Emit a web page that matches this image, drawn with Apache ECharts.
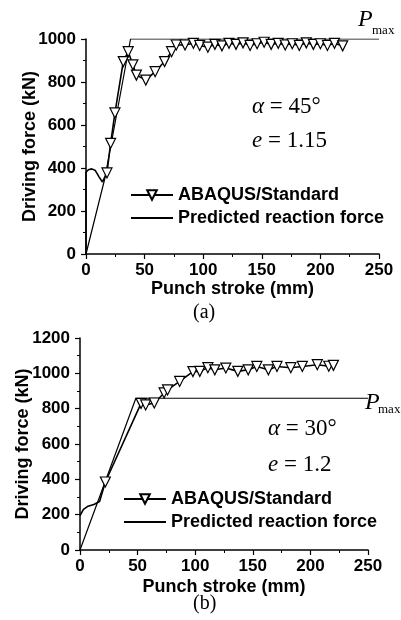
<!DOCTYPE html>
<html>
<head>
<meta charset="utf-8">
<script src="https://cdn.jsdelivr.net/npm/echarts@6/dist/echarts.min.js"></script>
<style>
  html, body { margin: 0; padding: 0; background: #fff; }
  #chart { width: 401px; height: 620px; }
</style>
</head>
<body>
<div id="chart"></div>
<script>
// panel (a): alpha = 45, e = 1.15
const abaqusA = [
  [0, 0], [0, 380], [2, 392], [5, 396], [8, 388], [11, 360], [14, 335],
  [17.9, 377], [21, 515], [24.7, 656], [31.8, 895], [36, 941], [40, 880],
  [43, 832], [51, 809], [59, 848], [67, 895], [73, 941], [77, 972],
  [84.5, 972], [91.6, 980], [97, 970], [104, 962], [110, 975], [116, 968],
  [122, 980], [128, 975], [134, 982], [140, 970], [146, 978], [152, 985],
  [158, 975], [164, 980], [170, 972], [176, 978], [182, 970], [188, 982],
  [194, 975], [200, 978], [206, 970], [212, 980], [219, 968]
]
const predictedA = [[0, 0], [16, 350], [38, 1000], [250, 1000]]

// panel (b): alpha = 30, e = 1.2
const abaqusB = [
  [0, 195], [3, 230], [7, 248], [12, 258], [17, 275], [22, 385],
  [53, 830], [57, 821], [64.5, 832], [73, 889], [76, 906], [86.5, 954],
  [98, 1010], [104, 1011], [111, 1032], [117, 1020], [126.6, 1030],
  [137, 1011], [146, 1020], [153.5, 1039], [163.5, 1020], [171, 1039],
  [183, 1032], [193, 1039], [206, 1049], [216, 1040], [220, 1045]
]
const predictedB = [[0, 0], [48.5, 859], [250, 859]]

const xTicks = { min: 0, max: 250, interval: 50 }
const yTicksA = { min: 0, max: 1000, interval: 200 }
const yTicksB = { min: 0, max: 1200, interval: 200 }

const sans = 'Liberation Sans, Arial, sans-serif'
const serif = 'Liberation Serif, Times New Roman, serif'

function xAxis(idx, gap) {
  return {
    type: 'value', gridIndex: idx,
    min: xTicks.min, max: xTicks.max, interval: xTicks.interval,
    name: 'Punch stroke (mm)', nameLocation: 'middle', nameGap: gap,
    nameMoveOverlap: false,
    nameTextStyle: { fontFamily: sans, fontWeight: 'bold', fontSize: 18, color: '#000' },
    axisLine: { lineStyle: { color: '#000', width: 1.5 } },
    axisTick: { inside: false, length: 5, lineStyle: { color: '#000', width: 1.2 } },
    minorTick: { show: true, splitNumber: 2, length: 3, lineStyle: { color: '#000' } },
    axisLabel: {
      margin: 8, fontFamily: sans, fontWeight: 'bold', fontSize: 17, color: '#000',
      formatter: (v) => String(v)
    },
    splitLine: { show: false }
  }
}

function yAxis(idx, ticks, gap) {
  return {
    type: 'value', gridIndex: idx,
    min: ticks.min, max: ticks.max, interval: ticks.interval,
    name: 'Driving force (kN)', nameLocation: 'middle', nameGap: gap,
    nameMoveOverlap: false,
    nameTextStyle: { fontFamily: sans, fontWeight: 'bold', fontSize: 18, color: '#000' },
    axisLine: { show: true, lineStyle: { color: '#000', width: 1.5 } },
    axisTick: { show: true, inside: false, length: 5, lineStyle: { color: '#000', width: 1.2 } },
    minorTick: { show: true, splitNumber: 2, length: 3, lineStyle: { color: '#000' } },
    axisLabel: {
      margin: 10, fontFamily: sans, fontWeight: 'bold', fontSize: 17, color: '#000',
      formatter: (v) => String(v)
    },
    splitLine: { show: false }
  }
}

function abaqusSeries(idx, data, cutoff) {
  return {
    name: 'ABAQUS/Standard', type: 'line',
    xAxisIndex: idx, yAxisIndex: idx,
    data: data,
    symbol: 'triangle', symbolRotate: 180,
    symbolSize: function (v) { return v[0] < cutoff ? 0 : 10 },
    showAllSymbol: true,
    itemStyle: { color: '#fff', borderColor: '#000', borderWidth: 1.2 },
    lineStyle: { color: '#000', width: 1.6 },
    z: 3
  }
}

function predictedSeries(idx, data) {
  return {
    name: 'Predicted reaction force', type: 'line',
    xAxisIndex: idx, yAxisIndex: idx,
    data: data, symbol: 'none',
    lineStyle: { color: '#000', width: 1.2 },
    itemStyle: { color: '#000' },
    z: 2
  }
}

function legend(left, top) {
  return {
    orient: 'vertical', left: left, top: top,
    itemWidth: 42, itemHeight: 12, itemGap: 5,
    selectedMode: false,
    textStyle: { fontFamily: sans, fontWeight: 'bold', fontSize: 18, color: '#000', lineHeight: 18 },
    data: [
      'ABAQUS/Standard',
      { name: 'Predicted reaction force', itemStyle: { color: 'rgba(0,0,0,0)', borderWidth: 0 } }
    ]
  }
}

function label(x, y, text, size, style) {
  return {
    type: 'text', left: x, top: y,
    style: {
      text: text, fill: '#000',
      fontFamily: serif, fontSize: size, fontStyle: style || 'normal',
      rich: {
        i: { fontFamily: serif, fontSize: size, fontStyle: 'italic', fill: '#000' },
        n: { fontFamily: serif, fontSize: size, fill: '#000' }
      }
    }
  }
}

const chart = echarts.init(document.getElementById('chart'), null, { renderer: 'canvas' })
chart.setOption({
  animation: false,
  backgroundColor: '#fff',
  grid: [
    { left: 86, right: 22, top: 39, bottom: 366 },
    { left: 80, right: 33, top: 338, bottom: 70 }
  ],
  xAxis: [xAxis(0, 26), xAxis(1, 28)],
  yAxis: [yAxis(0, yTicksA, 47), yAxis(1, yTicksB, 48)],
  legend: [legend(125, 181), legend(118, 485)],
  series: [
    predictedSeries(0, predictedA),
    abaqusSeries(0, abaqusA, 15),
    predictedSeries(1, predictedB),
    abaqusSeries(1, abaqusB, 20)
  ],
  graphic: [
    label(358, 8, 'P', 24, 'italic'),
    label(372, 24, 'max', 13),
    label(252, 95, '{i|α}{n| = 45°}', 23),
    label(252, 129, '{i|e}{n| = 1.15}', 23),
    label(193, 303, '(a)', 20),
    label(365, 391, 'P', 24, 'italic'),
    label(378, 403, 'max', 13),
    label(268, 417, '{i|α}{n| = 30°}', 23),
    label(268, 453, '{i|e}{n| = 1.2}', 23),
    label(193, 594, '(b)', 20)
  ]
})
</script>
</body>
</html>
